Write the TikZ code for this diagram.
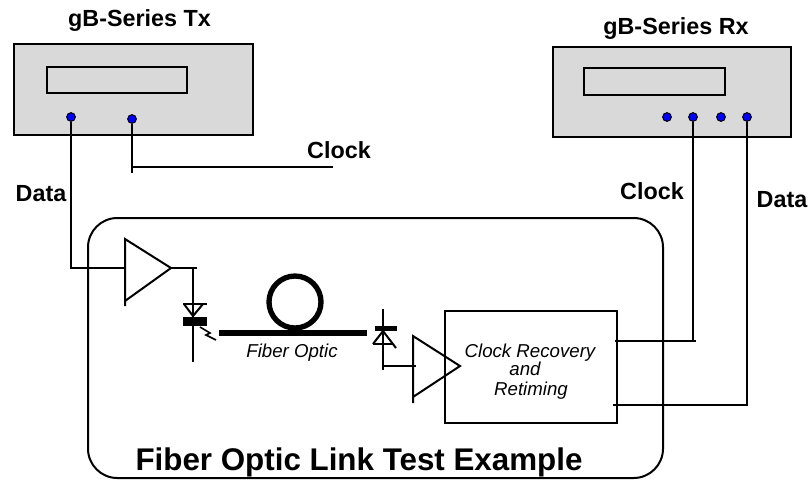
\documentclass[tikz,border=0pt]{standalone}
\usepackage{fontspec}
\setmainfont{Liberation Sans}
\definecolor{panelgray}{RGB}{217,217,217}
\definecolor{portblue}{RGB}{0,0,255}
\begin{document}
\begin{tikzpicture}[x=0.75pt,y=-0.75pt,line width=1.5pt,
  wire/.style={line width=1.5pt},
  panel/.style={draw, fill=panelgray, line width=1.5pt, inner sep=0pt},
  screen/.style={draw, line width=1.5pt, inner sep=0pt},
  port/.style={circle, draw, fill=portblue, line width=0.75pt, inner sep=0pt, minimum size=6.5pt},
  lbl/.style={font=\fontsize{17.5}{20}\selectfont\bfseries, anchor=base, inner sep=0pt},
  itl/.style={font=\fontsize{14}{16}\selectfont\itshape, anchor=base, inner sep=0pt},
  blk/.style={draw, line width=1.5pt, inner sep=0pt}]
\useasboundingbox (0,0) rectangle (811,480);

% outer link frame
\node[blk, rounded corners=22pt, minimum width=431.25pt, minimum height=195pt] (link) at (375.5,348) {};
\node[font=\fontsize{23.5}{28}\selectfont\bfseries, anchor=base, inner sep=0pt] (ttl) at (359,470) {Fiber Optic Link Test Example};

% transmitter
\node[panel, minimum width=179.25pt, minimum height=68.25pt] (tx) at (133.5,89.5) {};
\node[screen, minimum width=105pt, minimum height=19.5pt] (txscr) at (117,80) {};
\node[port] (txdata) at (71,117) {};
\node[port] (txclk) at (132,119) {};
\node[lbl] (txttl) at (139.5,26) {gB-Series Tx};

% receiver
\node[panel, minimum width=178.5pt, minimum height=67.5pt] (rx) at (672,92) {};
\node[screen, minimum width=105.75pt, minimum height=20.25pt] (rxscr) at (654.5,81.5) {};
\node[port] (rxp1) at (667,117) {};
\node[port] (rxp2) at (693,117) {};
\node[port] (rxp3) at (721,117) {};
\node[port] (rxp4) at (747,117) {};
\node[lbl] (rxttl) at (676,34) {gB-Series Rx};

% labels
\node[lbl] (lclk) at (339,158) {Clock};
\node[lbl] (ldata) at (41,201) {Data};
\node[lbl] (rclk) at (652,199) {Clock};
\node[lbl] (rdata) at (782,207) {Data};

% Tx clock stub
\coordinate (clkstub) at (132,173);
\coordinate (clkend) at (333,167);
\draw[wire] (txclk) -- (clkstub);
\draw[wire] (txclk |- clkend) -- (clkend);

% amplifier 1
\coordinate (a1t) at (125,239);
\coordinate (a1b) at (125,301);
\coordinate (a1x) at (125,306);
\coordinate (a1o) at (171,268);
\coordinate (a1i) at (125,268);
\draw[wire] (a1x) -- (a1t) -- (a1o) -- (a1b);
\draw[wire] (txdata) |- (a1i);
\coordinate (a1r) at (197,268);
\draw[wire] (a1o) -- (a1r);

% laser diode
\coordinate (ldtop) at (193,268);
\coordinate (ldbot) at (193,362);
\draw[wire] (ldtop) -- (ldbot);
\draw[wire] (183,304) -- (207,304);
\draw[wire] (184,304) -- (193,316) -- (203,304);
\fill (183,317) rectangle (207,326);
\draw[line width=1.2pt] (200,327) -- (210,333) -- (206,335) -- (216,340);

% fiber
\coordinate (fa) at (219,333);
\coordinate (fb) at (367,333);
\draw[line width=5pt] (fa) -- (fb);
\draw[line width=4pt] (295,302) circle[radius=19.5pt];
\node[itl] (fol) at (292,357) {Fiber Optic};

% photodiode
\coordinate (pdt) at (383,309);
\coordinate (pdb) at (383,370);
\draw[wire] (pdt) -- (pdb);
\fill (375,326) rectangle (397,331);
\draw[wire] (373,344) -- (393,344);
\draw[wire] (373,344) -- (383,331) -- (396,348);
\coordinate (pdo) at (383,366);
\coordinate (a2i) at (416,366);
\draw[wire] (pdo) -- (a2i);

% amplifier 2
\coordinate (a2t) at (413,336);
\coordinate (a2b) at (413,397);
\coordinate (a2x) at (413,403);
\coordinate (a2o) at (460,366);
\draw[wire] (a2x) -- (a2t) -- (a2o) -- (a2b);

% clock recovery
\node[blk, minimum width=129pt, minimum height=84pt] (cr) at (531,367) {};
\node[itl] (crt1) at (530,357) {Clock Recovery};
\node[itl] (crt2) at (525,375) {and};
\node[itl] (crt3) at (531,395) {Retiming};

% outputs to receiver
\coordinate (o1) at (615,341);
\coordinate (o1e) at (696,341);
\draw[wire] (o1) -- (o1e);
\draw[wire] (rxp2) -- (rxp2 |- o1e);
\coordinate (o2) at (613,405);
\coordinate (o2e) at (748,405);
\draw[wire] (o2) -- (o2e);
\draw[wire] (rxp4) -- (rxp4 |- o2e);
\end{tikzpicture}
\end{document}
